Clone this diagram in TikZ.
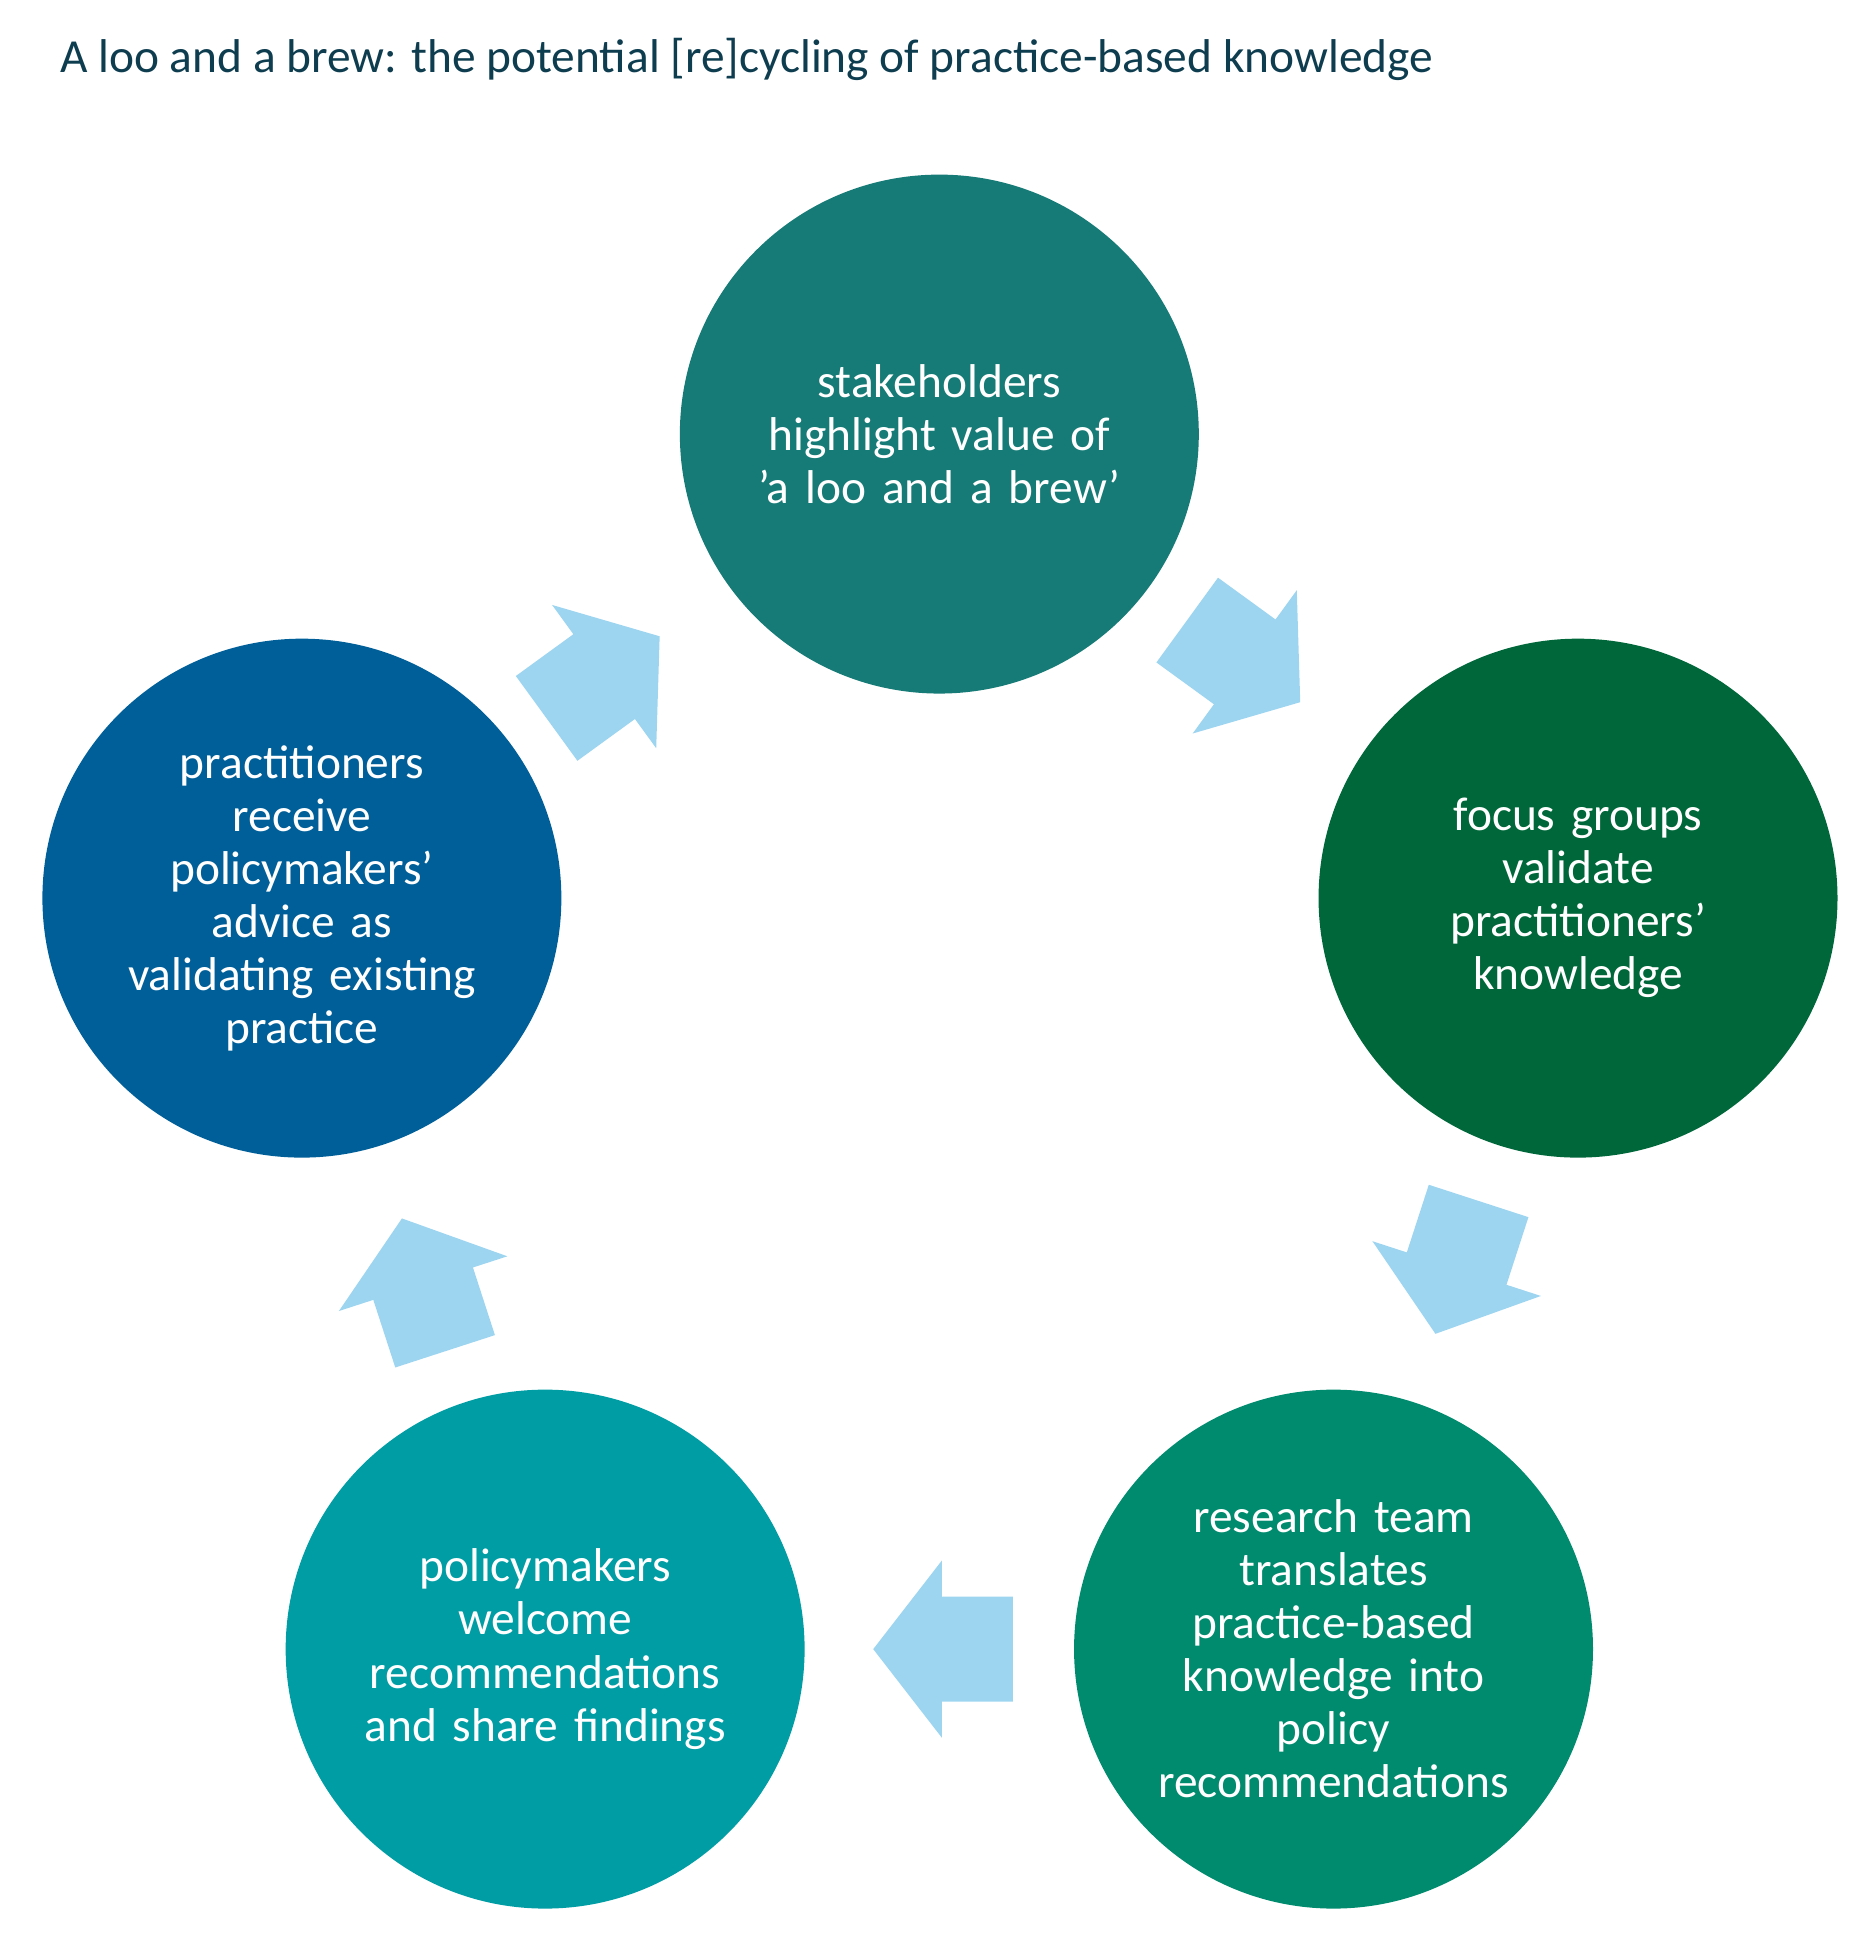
\documentclass[tikz,border=0pt]{standalone}
\usepackage{fontspec}
\setmainfont{Carlito}
\usetikzlibrary{calc}
\definecolor{cTop}{HTML}{167B76}
\definecolor{cRight}{HTML}{00673A}
\definecolor{cBR}{HTML}{008B6E}
\definecolor{cBL}{HTML}{009DA5}
\definecolor{cLeft}{HTML}{005F98}
\definecolor{cArrow}{HTML}{9DD5F0}
\definecolor{cTitle}{HTML}{0E3D50}
\tikzset{
  stage/.style={circle,minimum size=416pt,inner sep=0pt,text=white,align=center,
    font=\fontsize{38pt}{42.5pt}\selectfont,text width=330pt},
  blockarrow/.style={fill=cArrow,draw=none},
}
\newcommand{\blockarrowat}[2]{%
  \fill[cArrow,shift={#1},rotate=#2] (-56,-42) -- (1,-42) -- (1,-71) -- (56,0) -- (1,71) -- (1,42) -- (-56,42) -- cycle;}
\begin{document}
\begin{tikzpicture}[x=1pt,y=1pt]
\useasboundingbox (0,0) rectangle (1500,1568);
\node[anchor=base west,text=cTitle,font=\fontsize{38pt}{44pt}\selectfont,inner sep=0pt] (title) at (48,1510) {A loo and a brew: the potential [re]cycling of practice-based knowledge};
\node[stage,fill=cTop] (top) at (753,1220) {stakeholders\\highlight value of\\'a loo and a brew'};
\node[stage,fill=cRight] (right) at (1265,848) {focus groups\\validate\\practitioners'\\knowledge};
\node[stage,fill=cBR] (br) at (1069,246) {research team\\translates\\practice-based\\knowledge into\\policy\\recommendations};
\node[stage,fill=cBL] (bl) at (437,246) {policymakers\\welcome\\recommendations\\and share findings};
\node[stage,fill=cLeft] (left) at (242,848) {practitioners\\receive\\policymakers'\\advice as\\validating existing\\practice};
\blockarrowat{($(top)!0.5!(right)+(-12,4)$)}{-36}
\blockarrowat{($(right)!0.5!(br)+(1,5)$)}{-108}
\blockarrowat{($(br)!0.5!(bl)+(3,0)$)}{180}
\blockarrowat{($(bl)!0.5!(left)+(0,-9)$)}{108}
\blockarrowat{($(left)!0.5!(top)+(-14,-9)$)}{36}
\end{tikzpicture}
\end{document}
